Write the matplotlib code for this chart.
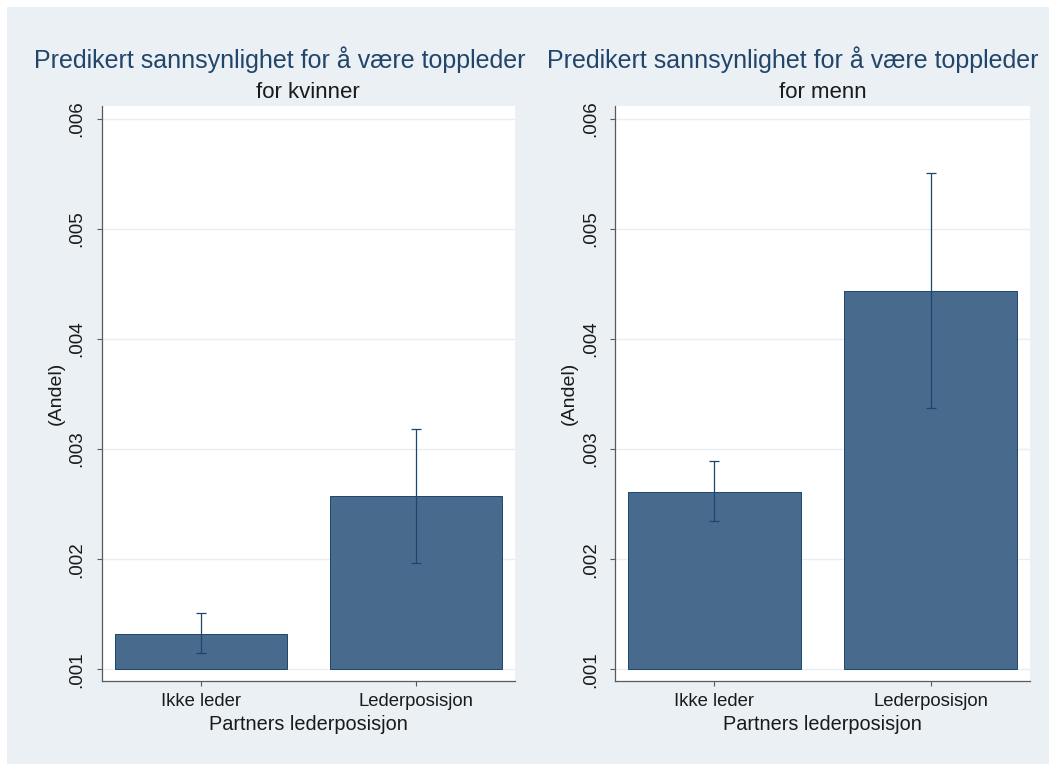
import matplotlib
matplotlib.use("Agg")
import matplotlib.pyplot as plt
from matplotlib.patches import Rectangle

plt.rcParams['font.family'] = ['Liberation Sans', 'DejaVu Sans']

# Data
categories = ["Ikke leder", "Lederposisjon"]
women_pred = [0.00132, 0.00257]
women_lo = [0.00115, 0.00197]
women_hi = [0.00151, 0.00318]
men_pred = [0.00261, 0.00444]
men_lo = [0.00235, 0.00337]
men_hi = [0.00289, 0.00551]
yticks = [0.001, 0.002, 0.003, 0.004, 0.005, 0.006]
ytick_labels = [".001", ".002", ".003", ".004", ".005", ".006"]

title_text = "Predikert sannsynlighet for å være toppleder"
subtitles = ["for kvinner", "for menn"]
xlabel_text = "Partners lederposisjon"
ylabel_text = "(Andel)"

# Style
W, H = 1056, 771
BG = "#EAF0F3"
BAR = "#486A8C"
NAVY = "#1A476F"
TITLE = "#22456B"
AXIS = "#5A5A5A"
GRID = "#E8EEF1"
TEXT = "#1a1a1a"

fig = plt.figure(figsize=(W / 100, H / 100), dpi=100)
fig.patch.set_facecolor("white")
fig.add_artist(Rectangle((7 / W, 7 / H), (1049 - 7) / W, (764 - 7) / H,
                         transform=fig.transFigure, facecolor=BG,
                         edgecolor="none", zorder=0))


def px_axes(x0, x1, y_top, y_bot):
    return fig.add_axes([x0 / W, 1 - y_bot / H, (x1 - x0) / W, (y_bot - y_top) / H])


def draw_panel(ax, pred, lo, hi):
    x = list(range(len(categories)))
    base = 0.001
    heights = [p - base for p in pred]
    ax.bar(x, heights, bottom=base, width=0.8, color=BAR,
           edgecolor=NAVY, linewidth=0.7, zorder=3)
    yerr = [[p - l for p, l in zip(pred, lo)], [h - p for p, h in zip(pred, hi)]]
    ax.errorbar(x, pred, yerr=yerr, fmt="none", ecolor=NAVY,
                elinewidth=0.9, capsize=3.6, capthick=0.9, zorder=4)
    ax.set_xlim(-0.46, 1.46)
    ax.set_ylim(0.000897, 0.00612)
    ax.set_facecolor("white")
    for side in ("top", "right"):
        ax.spines[side].set_visible(False)
    for side in ("left", "bottom"):
        ax.spines[side].set_color(AXIS)
        ax.spines[side].set_linewidth(0.9)
    ax.set_yticks(yticks)
    ax.set_yticklabels(ytick_labels, rotation=90, va="center")
    ax.set_xticks(x)
    ax.set_xticklabels(categories)
    ax.tick_params(axis="y", direction="out", length=3.6, width=0.8,
                   color=AXIS, labelsize=13.5, pad=8, labelcolor=TEXT)
    ax.tick_params(axis="x", direction="out", length=3.6, width=0.8,
                   color=AXIS, labelsize=13.3, pad=5, labelcolor=TEXT)
    ax.grid(axis="y", color=GRID, linewidth=1.0, zorder=0)
    ax.set_axisbelow(True)
    ax.set_xlabel(xlabel_text, fontsize=14.3, color=TEXT, labelpad=3.5)
    ax.set_ylabel(ylabel_text, fontsize=14, color=TEXT, labelpad=3)


axL = px_axes(101.7, 515, 105.5, 680.7)
axR = px_axes(615, 1030, 105.5, 680.7)
draw_panel(axL, women_pred, women_lo, women_hi)
draw_panel(axR, men_pred, men_lo, men_hi)

for cx, cs, sub in [(280, 308.3, subtitles[0]), (792.5, 822.5, subtitles[1])]:
    fig.text(cx / W, 1 - 68 / H, title_text, ha="center", va="baseline",
             fontsize=18, color=TITLE)
    fig.text(cs / W, 1 - 97.5 / H, sub, ha="center", va="baseline",
             fontsize=16, color=TEXT)

fig.savefig("out.png", dpi=100, facecolor=fig.get_facecolor())
